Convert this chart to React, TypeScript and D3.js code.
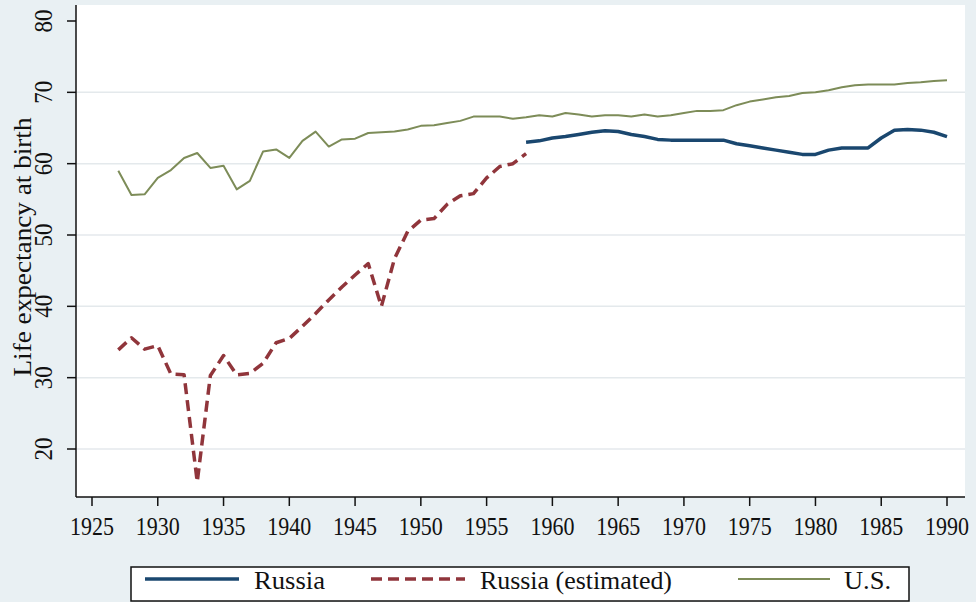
import React from "react";
import * as d3 from "d3";

const W = 976;
const H = 602;

// years covered by each series
const usYears = d3.range(1927, 1991);
const estYears = d3.range(1927, 1959);
const russiaYears = d3.range(1958, 1991);

// life expectancy at birth
const usValues = [
  59.0, 55.6, 55.7, 58.0, 59.1, 60.8, 61.5, 59.4, 59.7, 56.4,
  57.6, 61.7, 62.0, 60.8, 63.2, 64.5, 62.4, 63.4, 63.5, 64.3,
  64.4, 64.5, 64.8, 65.3, 65.4, 65.7, 66.0, 66.6, 66.6, 66.6,
  66.3, 66.5, 66.8, 66.6, 67.1, 66.9, 66.6, 66.8, 66.8, 66.6,
  66.9, 66.6, 66.8, 67.1, 67.4, 67.4, 67.5, 68.2, 68.7, 69.0,
  69.3, 69.5, 69.9, 70.0, 70.3, 70.7, 71.0, 71.1, 71.1, 71.1,
  71.3, 71.4, 71.6, 71.7
];

const estValues = [
  33.9, 35.6, 34.0, 34.5, 30.5, 30.4, 15.4, 30.3, 33.1, 30.4,
  30.6, 32.0, 34.9, 35.5, 37.2, 39.0, 40.9, 42.7, 44.4, 46.0,
  40.0, 46.7, 50.5, 52.1, 52.3, 54.3, 55.5, 55.8, 58.0, 59.6,
  60.0, 61.4
];

const russiaValues = [
  63.0, 63.2, 63.6, 63.8, 64.1, 64.4, 64.6, 64.5, 64.1, 63.8,
  63.4, 63.3, 63.3, 63.3, 63.3, 63.3, 62.8, 62.5, 62.2, 61.9,
  61.6, 61.3, 61.3, 61.9, 62.2, 62.2, 62.2, 63.6, 64.7, 64.8,
  64.7, 64.4, 63.8
];

const xTicks = d3.range(1925, 1991, 5);
const yTicks = [20, 30, 40, 50, 60, 70, 80];
const gridValues = [20, 30, 40, 50, 60, 70];

const legendItems = [
  { label: "Russia", color: "#1a476f", width: 3.5, dash: "" },
  { label: "Russia (estimated)", color: "#90353b", width: 3.5, dash: "11,6" },
  { label: "U.S.", color: "#7d8c58", width: 2, dash: "" }
];

const FONT = "'Liberation Serif', 'DejaVu Serif', serif";

export default function App() {
  const plot = { left: 76, right: 965, top: 5, bottom: 497 };

  const x = d3.scaleLinear().domain([1925, 1990]).range([92, 947]);
  const y = d3.scaleLinear().domain([20, 80]).range([449, 21]);

  const line = d3
    .line<[number, number]>()
    .x(d => x(d[0]))
    .y(d => y(d[1]));

  const zip = (ys: number[], vs: number[]) =>
    ys.map((yr, i) => [yr, vs[i]] as [number, number]);

  const series = [
    { data: zip(estYears, estValues), ...legendItems[1] },
    { data: zip(usYears, usValues), ...legendItems[2] },
    { data: zip(russiaYears, russiaValues), ...legendItems[0] }
  ];

  // legend layout
  const legend = { x: 131, y: 567, w: 778, h: 34 };
  const legendPos = [
    { lineX: 145, lineW: 94, textX: 254, textW: 71 },
    { lineX: 371, lineW: 94, textX: 480, textW: 192 },
    { lineX: 738, lineW: 92, textX: 844, textW: 47 }
  ];

  return (
    <svg
      width={W}
      height={H}
      style={{ position: "absolute", left: 0, top: 0 }}
      fontFamily={FONT}
    >
      <rect width={W} height={H} fill="#e9f0f3" />
      <rect
        x={plot.left}
        y={plot.top}
        width={plot.right - plot.left}
        height={plot.bottom - plot.top}
        fill="#ffffff"
      />

      {gridValues.map(v => (
        <line
          key={v}
          x1={plot.left}
          x2={plot.right}
          y1={y(v)}
          y2={y(v)}
          stroke="#e4e9ec"
          strokeWidth={1.5}
        />
      ))}

      {series.map(s => (
        <path
          key={s.label}
          d={line(s.data) || ""}
          fill="none"
          stroke={s.color}
          strokeWidth={s.width}
          strokeDasharray={s.dash || undefined}
          strokeLinejoin="round"
        />
      ))}

      {/* y axis */}
      <line
        x1={plot.left}
        x2={plot.left}
        y1={plot.top}
        y2={plot.bottom}
        stroke="#111"
        strokeWidth={1.5}
      />
      {yTicks.map(v => (
        <g key={v}>
          <line
            x1={plot.left - 9}
            x2={plot.left}
            y1={y(v)}
            y2={y(v)}
            stroke="#111"
            strokeWidth={1.5}
          />
          <text
            transform={`translate(52, ${y(v)}) rotate(-90)`}
            textAnchor="middle"
            fontSize={26}
            textLength={23}
            lengthAdjust="spacingAndGlyphs"
            fill="#111"
          >
            {v}
          </text>
        </g>
      ))}
      <text
        transform="translate(31, 247) rotate(-90)"
        textAnchor="middle"
        fontSize={25}
        textLength={259}
        lengthAdjust="spacingAndGlyphs"
        fill="#111"
      >
        Life expectancy at birth
      </text>

      {/* x axis */}
      <line
        x1={plot.left}
        x2={plot.right}
        y1={plot.bottom}
        y2={plot.bottom}
        stroke="#111"
        strokeWidth={1.5}
      />
      {xTicks.map(t => (
        <g key={t}>
          <line
            x1={x(t)}
            x2={x(t)}
            y1={plot.bottom}
            y2={plot.bottom + 9}
            stroke="#111"
            strokeWidth={1.5}
          />
          <text
            x={x(t)}
            y={535}
            textAnchor="middle"
            fontSize={26}
            textLength={44}
            lengthAdjust="spacingAndGlyphs"
            fill="#111"
          >
            {t}
          </text>
        </g>
      ))}

      {/* legend */}
      <rect
        x={legend.x}
        y={legend.y}
        width={legend.w}
        height={legend.h}
        fill="#ffffff"
        stroke="#111"
        strokeWidth={1.5}
      />
      {legendItems.map((item, i) => (
        <g key={item.label}>
          <line
            x1={legendPos[i].lineX}
            x2={legendPos[i].lineX + legendPos[i].lineW}
            y1={579}
            y2={579}
            stroke={item.color}
            strokeWidth={item.width}
            strokeDasharray={item.dash || undefined}
          />
          <text
            x={legendPos[i].textX}
            y={589}
            fontSize={26}
            textLength={legendPos[i].textW}
            lengthAdjust="spacingAndGlyphs"
            fill="#111"
          >
            {item.label}
          </text>
        </g>
      ))}
    </svg>
  );
}
